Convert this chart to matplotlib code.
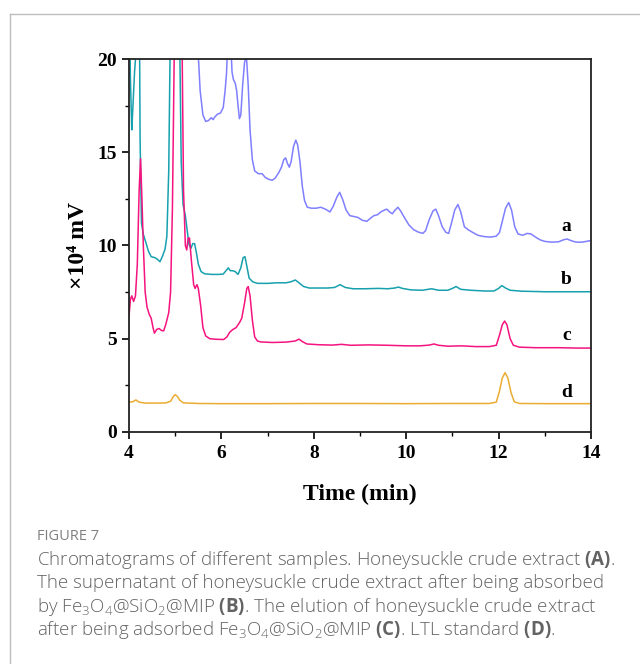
import numpy as np
import matplotlib
matplotlib.use("Agg")
import matplotlib.pyplot as plt
from matplotlib.lines import Line2D
from matplotlib.ticker import MultipleLocator

plt.rcParams['mathtext.fontset'] = 'custom'
plt.rcParams['mathtext.rm'] = 'Open Sans:light'
plt.rcParams['mathtext.it'] = 'Open Sans:light'
plt.rcParams['mathtext.bf'] = 'Open Sans:bold'

# chromatogram traces (time in min, signal in 1e4 mV)
a_time = [4.00, 5.40, 5.50, 5.54, 5.60, 5.66, 5.72, 5.78, 5.82, 5.86, 5.92, 5.98, 6.04, 6.08,
          6.11, 6.14, 6.20, 6.23, 6.26, 6.30, 6.33, 6.36, 6.39, 6.42, 6.46, 6.50, 6.54, 6.58,
          6.62, 6.67, 6.72, 6.80, 6.88, 6.95, 7.02, 7.10, 7.16, 7.24, 7.30, 7.35, 7.39, 7.43,
          7.47, 7.51, 7.56, 7.61, 7.65, 7.70, 7.75, 7.80, 7.86, 7.95, 8.05, 8.15, 8.25, 8.35,
          8.42, 8.50, 8.56, 8.62, 8.70, 8.78, 8.88, 8.96, 9.05, 9.15, 9.22, 9.30, 9.38, 9.45,
          9.53, 9.58, 9.64, 9.70, 9.76, 9.82, 9.88, 9.96, 10.06, 10.16, 10.26, 10.36, 10.42,
          10.50, 10.58, 10.64, 10.70, 10.78, 10.86, 10.92, 10.98, 11.05, 11.12, 11.18, 11.26,
          11.34, 11.44, 11.55, 11.68, 11.82, 11.95, 12.02, 12.08, 12.15, 12.22, 12.28, 12.35,
          12.42, 12.52, 12.62, 12.70, 12.80, 12.90, 13.00, 13.15, 13.30, 13.40, 13.48, 13.58,
          13.68, 13.80, 13.90, 14.00]
a_signal = [40.0, 30.0, 20.2, 18.3, 17.0, 16.65, 16.7, 16.85, 16.75, 16.9, 17.05, 17.1, 17.4, 18.3,
            19.2, 21.0, 21.0, 19.3, 18.9, 18.7, 18.3, 17.5, 16.8, 17.0, 18.6, 19.8, 20.2, 18.6,
            16.2, 14.6, 14.0, 13.85, 13.85, 13.65, 13.55, 13.5, 13.6, 13.9, 14.2, 14.6, 14.7, 14.4,
            14.2, 14.5, 15.3, 15.65, 15.4, 14.5, 13.2, 12.4, 12.05, 12.0, 12.0, 12.05, 11.95, 11.8,
            12.1, 12.6, 12.85, 12.5, 11.9, 11.6, 11.55, 11.5, 11.35, 11.3, 11.45, 11.6, 11.65, 11.8,
            11.9, 11.95, 11.8, 11.7, 11.9, 12.05, 11.85, 11.5, 11.1, 10.85, 10.72, 10.65, 10.8,
            11.4, 11.85, 11.95, 11.6, 11.0, 10.7, 10.65, 11.2, 11.9, 12.2, 11.8, 11.0,
            10.85, 10.7, 10.55, 10.48, 10.45, 10.5, 10.7, 11.3, 12.0, 12.3, 11.9, 11.0,
            10.62, 10.55, 10.65, 10.62, 10.45, 10.3, 10.22, 10.18, 10.2, 10.3, 10.35, 10.25,
            10.18, 10.18, 10.22, 10.27]

b_time = [4.00, 4.03, 4.06, 4.08, 4.12, 4.17, 4.22, 4.24, 4.27, 4.31, 4.36, 4.42, 4.48, 4.56,
          4.62, 4.67, 4.72, 4.78, 4.82, 4.86, 4.89, 4.92, 5.06, 5.10, 5.13, 5.17, 5.22, 5.26,
          5.30, 5.34, 5.38, 5.42, 5.46, 5.50, 5.56, 5.64, 5.80, 5.95, 6.04, 6.10, 6.15, 6.19,
          6.24, 6.30, 6.36, 6.42, 6.47, 6.51, 6.55, 6.60, 6.68, 6.78, 7.00, 7.20, 7.40, 7.50,
          7.60, 7.68, 7.78, 7.90, 8.10, 8.30, 8.45, 8.57, 8.68, 8.85, 9.10, 9.40, 9.60, 9.75,
          9.83, 9.92, 10.10, 10.35, 10.55, 10.70, 10.90, 11.00, 11.08, 11.18, 11.40, 11.70,
          11.90, 12.00, 12.07, 12.15, 12.25, 12.50, 13.00, 13.50, 14.00]
b_signal = [25.0, 19.0, 16.2, 17.2, 19.3, 21.0, 25.0, 15.7, 11.2, 10.6, 10.2, 9.7, 9.4, 9.35,
            9.25, 9.13, 9.4, 9.8, 10.5, 14.0, 20.5, 30.0, 30.0, 20.5, 14.5, 12.2, 11.6, 10.8,
            10.05, 9.85, 10.1, 10.1, 9.6, 9.0, 8.6, 8.48, 8.45, 8.45, 8.47, 8.65, 8.8, 8.65,
            8.65, 8.6, 8.45, 8.8, 9.35, 9.4, 8.9, 8.25, 8.05, 7.97, 7.97, 8.0, 8.0, 8.05,
            8.15, 8.0, 7.8, 7.72, 7.72, 7.72, 7.75, 7.9, 7.75, 7.68, 7.68, 7.7, 7.68, 7.72,
            7.77, 7.7, 7.62, 7.6, 7.68, 7.6, 7.6, 7.7, 7.8, 7.65, 7.6, 7.56,
            7.56, 7.7, 7.85, 7.72, 7.6, 7.55, 7.52, 7.52, 7.52]

c_time = [4.00, 4.03, 4.06, 4.10, 4.14, 4.18, 4.22, 4.25, 4.28, 4.31, 4.35, 4.39, 4.44, 4.48,
          4.52, 4.55, 4.60, 4.65, 4.70, 4.75, 4.80, 4.86, 4.90, 4.94, 4.98, 5.00, 5.12, 5.15,
          5.18, 5.22, 5.25, 5.28, 5.31, 5.35, 5.40, 5.43, 5.47, 5.50, 5.55, 5.60, 5.66, 5.75,
          5.90, 6.05, 6.12, 6.18, 6.25, 6.32, 6.40, 6.44, 6.50, 6.55, 6.58, 6.62, 6.67, 6.72,
          6.78, 6.85, 7.10, 7.40, 7.60, 7.68, 7.75, 7.85, 8.10, 8.40, 8.60, 8.80, 9.20, 9.60,
          10.00, 10.30, 10.50, 10.60, 10.70, 10.90, 11.20, 11.50, 11.80, 11.95, 12.02, 12.08,
          12.13, 12.18, 12.25, 12.32, 12.45, 12.80, 13.30, 13.70, 14.00]
c_signal = [6.2, 7.1, 7.3, 7.0, 7.3, 9.0, 13.0, 14.65, 12.5, 10.0, 7.5, 6.7, 6.3, 6.1,
            5.6, 5.3, 5.5, 5.55, 5.45, 5.42, 5.8, 6.4, 7.5, 12.0, 20.5, 30.0, 30.0, 20.5,
            13.0, 10.0, 9.76, 10.4, 10.4, 9.2, 7.9, 7.7, 7.9, 7.7, 6.8, 5.6, 5.15, 5.0,
            4.97, 4.96, 5.1, 5.35, 5.5, 5.6, 5.9, 6.1, 6.9, 7.7, 7.8, 7.3, 6.0, 5.1,
            4.88, 4.83, 4.8, 4.82, 4.88, 4.98, 4.85, 4.72, 4.68, 4.66, 4.7, 4.65, 4.67, 4.65,
            4.62, 4.62, 4.66, 4.72, 4.65, 4.6, 4.62, 4.58, 4.58, 4.65, 5.2, 5.75,
            5.95, 5.75, 5.0, 4.65, 4.55, 4.52, 4.52, 4.5, 4.5]

d_time = [4.00, 4.08, 4.15, 4.22, 4.35, 4.60, 4.80, 4.90, 4.96, 5.00, 5.05, 5.10, 5.18, 5.50,
          6.00, 7.00, 8.00, 9.00, 10.00, 11.00, 11.80, 11.95, 12.02, 12.08, 12.14, 12.20,
          12.27, 12.34, 12.45, 13.00, 14.00]
d_signal = [1.6, 1.62, 1.72, 1.6, 1.55, 1.55, 1.56, 1.65, 1.9, 2.0, 1.9, 1.7, 1.56, 1.53,
            1.52, 1.52, 1.53, 1.53, 1.52, 1.53, 1.53, 1.6, 2.2, 2.9, 3.18, 2.9,
            2.1, 1.62, 1.53, 1.52, 1.52]

labels = ['a', 'b', 'c', 'd']
label_y = [11.0, 8.2, 5.2, 2.1]
colors = ['#7f7fff', '#17a0ae', '#f5137f', '#ebac32']

serif = ['Liberation Serif', 'DejaVu Serif']

fig = plt.figure(figsize=(6.4, 6.64), dpi=100)

# light frame around the figure panel (only top and left visible)
fig.add_artist(Line2D([10 / 640, 1.0], [1 - 13.5 / 664] * 2, transform=fig.transFigure,
                      color='#bdbdbd', lw=1.0))
fig.add_artist(Line2D([10 / 640] * 2, [0.0, 1 - 13.5 / 664], transform=fig.transFigure,
                      color='#bdbdbd', lw=1.0))

ax = fig.add_axes([129 / 640, 1 - 432 / 664, (591 - 129) / 640, (432 - 59) / 664])

series = [(a_time, a_signal), (b_time, b_signal), (c_time, c_signal), (d_time, d_signal)]
for (t, s), col in zip(series, colors):
    ax.plot(t, s, color=col, lw=1.1)

for lab, yv in zip(labels, label_y):
    ax.text(13.47, yv, lab, fontsize=14, fontweight='bold', family=serif,
            ha='center', va='center')

ax.set_xlim(4, 14)
ax.set_ylim(0, 20)
ax.xaxis.set_major_locator(MultipleLocator(2))
ax.xaxis.set_minor_locator(MultipleLocator(1))
ax.yaxis.set_major_locator(MultipleLocator(5))
ax.yaxis.set_minor_locator(MultipleLocator(2.5))
ax.tick_params(which='major', direction='out', length=5, width=1.2, pad=4)
ax.tick_params(which='minor', direction='out', length=3, width=1.0)
for sp in ax.spines.values():
    sp.set_linewidth(1.3)
    sp.set_color('#222222')

for lbl in ax.get_xticklabels() + ax.get_yticklabels():
    lbl.set_fontfamily(serif)
    lbl.set_fontweight('bold')
    lbl.set_fontsize(14)

ax.set_xlabel('Time (min)', fontsize=17, fontweight='bold', family=serif, labelpad=16)
ax.set_ylabel('×10⁴ mV', fontsize=17, fontweight='bold', family=serif, labelpad=6)

# caption
fig.text(37 / 640, 1 - 537 / 664, 'FIGURE 7', fontsize=10.5, color='#808080',
         family='Open Sans', va='center')
caption = [
    r'Chromatograms of different samples. Honeysuckle crude extract $\mathbf{(A)}$.',
    r'The supernatant of honeysuckle crude extract after being absorbed',
    r'by Fe$_3$O$_4$@SiO$_2$@MIP $\mathbf{(B)}$. The elution of honeysuckle crude extract',
    r'after being adsorbed Fe$_3$O$_4$@SiO$_2$@MIP $\mathbf{(C)}$. LTL standard $\mathbf{(D)}$.',
]
for i, line in enumerate(caption):
    fig.text(37 / 640, 1 - (560 + 23.3 * i) / 664, line, fontsize=13.5, color='#636363',
             family='Open Sans', fontweight='light', va='center')

fig.savefig('out.png', dpi=100)
